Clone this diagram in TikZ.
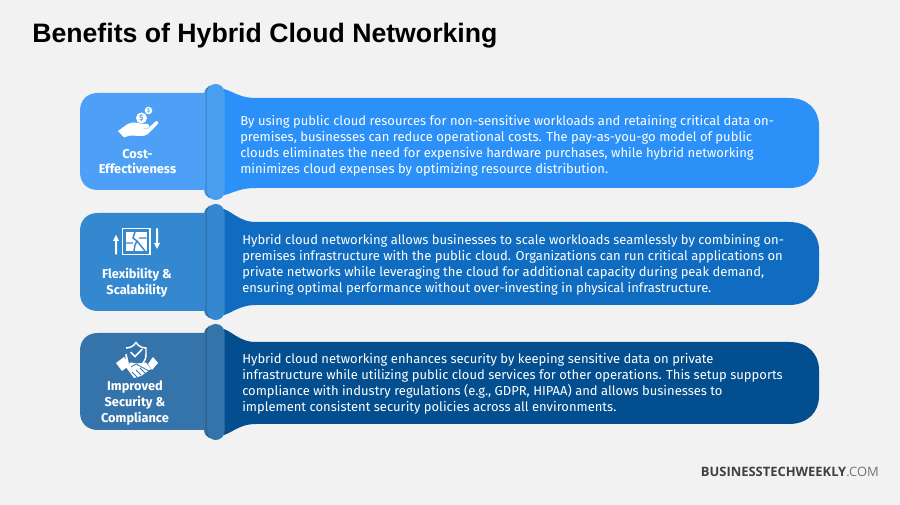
\documentclass[tikz,border=0pt]{standalone}
\usepackage{fontspec}
\setmainfont{Fira Sans}
\newfontfamily\titlefont{Liberation Sans}
\newfontfamily\footfont{Open Sans}
\definecolor{pagebg}{HTML}{F2F2F2}
\definecolor{boxA}{HTML}{4DA0F5}
\definecolor{barA}{HTML}{4A9EF0}
\definecolor{tailA}{HTML}{2B90F8}
\definecolor{boxB}{HTML}{3488CF}
\definecolor{barB}{HTML}{3488CF}
\definecolor{tailB}{HTML}{0F6CC0}
\definecolor{boxC}{HTML}{3574AB}
\definecolor{barC}{HTML}{3574AB}
\definecolor{tailC}{HTML}{034E8F}
\tikzset{
  x=0.75pt,y=-0.75pt,
  bodytext/.style={anchor=west,text=white,font=\fontsize{9.75pt}{12pt}\selectfont,align=left,inner sep=0pt},
  headtext/.style={text=white,font=\bfseries\fontsize{9.6pt}{11.8pt}\selectfont,align=center,inner sep=0pt},
  iconfill/.style={fill=white,draw=none},
  iconline/.style={draw=white,fill=none,line width=1.1pt},
}
\newcommand{\bandshape}[7]{%
 % #1 top box #2 bottom box #3 bar top #4 bar bottom #5 tail top #6 tail bottom #7 letter
 \fill[tail#7] (220,#3+4) .. controls (232,#3+6) and (238,#5) .. (256,#5) -- (789,#5)
   .. controls (808,#5) and (819,#5+12) .. (819,#5+28) -- (819,#6-28)
   .. controls (819,#6-12) and (808,#6) .. (789,#6) -- (256,#6)
   .. controls (238,#6) and (232,#4-6) .. (220,#4-4) -- cycle;
 \fill[box#7] (208,#1) -- (98,#1) .. controls (87,#1) and (80,#1+7) .. (80,#1+18) -- (80,#2-18)
   .. controls (80,#2-7) and (87,#2) .. (98,#2) -- (208,#2) -- cycle;
 \shade[rounded corners=6pt,left color=box#7,right color=black!60!box#7,middle color=black!45!box#7] (204,#3+2) rectangle (216,#4-2);
 \fill[bar#7,rounded corners=6.5pt] (207,#3) rectangle (224.5,#4);
}
\begin{document}
\begin{tikzpicture}
\useasboundingbox (0,0) rectangle (900,505);
\fill[pagebg] (0,0) rectangle (900,505);
\node[anchor=west,inner sep=0pt,font=\titlefont\bfseries\fontsize{20pt}{22pt}\selectfont,text=black] (title) at (32,35.5) {Benefits of Hybrid Cloud Networking};

\bandshape{93}{190}{84}{200}{98}{188}{A}
\bandshape{213}{311}{204}{320}{222}{305}{B}
\bandshape{333}{430}{324}{440}{342}{424}{C}

\node[bodytext] (textA) at (240,145.5) {By using public cloud resources for non-sensitive workloads and retaining critical data on-\\premises, businesses can reduce operational costs. The pay-as-you-go model of public\\clouds eliminates the need for expensive hardware purchases, while hybrid networking\\minimizes cloud expenses by optimizing resource distribution.};
\node[bodytext] (textB) at (242,264.5) {Hybrid cloud networking allows businesses to scale workloads seamlessly by combining on-\\premises infrastructure with the public cloud. Organizations can run critical applications on\\private networks while leveraging the cloud for additional capacity during peak demand,\\ensuring optimal performance without over-investing in physical infrastructure.};
\node[bodytext] (textC) at (242,384) {Hybrid cloud networking enhances security by keeping sensitive data on private\\infrastructure while utilizing public cloud services for other operations. This setup supports\\compliance with industry regulations (e.g., GDPR, HIPAA) and allows businesses to\\implement consistent security policies across all environments.};

\node[headtext] (headA) at (137.5,161.5) {Cost-\\Effectiveness};
\node[headtext] (headB) at (137,283) {Flexibility \&\\Scalability};
\node[headtext] (headC) at (135,403) {Improved\\Security \&\\Compliance};

% hand with coins
\fill[iconfill] (118,131) -- (127,124.5) .. controls (131,122) and (136,122) .. (140,123.5) -- (147,124) .. controls (150,124) and (150,128) .. (147,128) -- (139,128) -- (148,128.5) -- (155,122) .. controls (157,120) and (160,122) .. (157,125) -- (148,134) .. controls (146,135.5) and (144,136) .. (141,136) -- (130,135.5) -- (124,137.5) -- cycle;
\fill[iconfill] (141.5,118) circle (5.5);
\fill[iconfill] (148.5,110.5) circle (3.8);
\node[inner sep=0pt,text=boxA,font=\bfseries\fontsize{5.5pt}{6pt}\selectfont] (coinA) at (141.5,118) {\$};
\node[inner sep=0pt,text=boxA,font=\bfseries\fontsize{4pt}{5pt}\selectfont] (coinB) at (148.5,110.5) {\$};

% map with arrows
\draw[iconline] (122.5,228.5) rectangle (150,254.5);
\fill[iconfill] (126,232) rectangle (146.5,251);
\draw[draw=boxB,line width=1.1pt] (126,243) -- (133,243) (135,232) -- (133,238) -- (137,241) -- (135,245) -- (134,251) (137,241) -- (141,246) -- (145,251) (139,238) -- (146.5,238);
\fill[iconfill] (116,235) -- (119,241) -- (117,241) -- (117,254.5) -- (115,254.5) -- (115,241) -- (113,241) -- cycle;
\fill[iconfill] (157,249) -- (154,243) -- (156,243) -- (156,228.5) -- (158,228.5) -- (158,243) -- (160,243) -- cycle;

% shield and handshake
\draw[iconline] (126,348) .. controls (130,348) and (134,346) .. (136,342.5) .. controls (138,346) and (142,348) .. (146,348) -- (146,354) .. controls (146,358) and (145,361) .. (143,363) (128,363) .. controls (127,360) and (126,358) .. (126,354) -- cycle;
\draw[draw=white,line width=1.3pt,line cap=round] (131,352.5) -- (135,356.5) -- (142,349.5);
\fill[iconfill] (116,363) -- (124,357) -- (130,365) -- (122,371) -- cycle;
\fill[iconfill] (148,364) -- (153,357) -- (158,363) -- (152,370) -- cycle;
\fill[iconfill] (125,366) -- (131,362.5) -- (137,363.5) -- (146,362.5) -- (151,369) -- (141,376) -- (134,378) -- cycle;
\draw[draw=boxC,line width=0.6pt] (131,367) -- (136,364) -- (149,371) (137,377) -- (132,372) (141,375) -- (136,370) (145,373) -- (140,368);

\node[anchor=east,inner sep=0pt,font=\footfont\fontsize{9.7pt}{11pt}\selectfont] (brand) at (879,472) {\textcolor{black!75}{\textbf{BUSINESSTECHWEEKLY}}\textcolor{black!55}{.COM}};
\end{tikzpicture}
\end{document}
